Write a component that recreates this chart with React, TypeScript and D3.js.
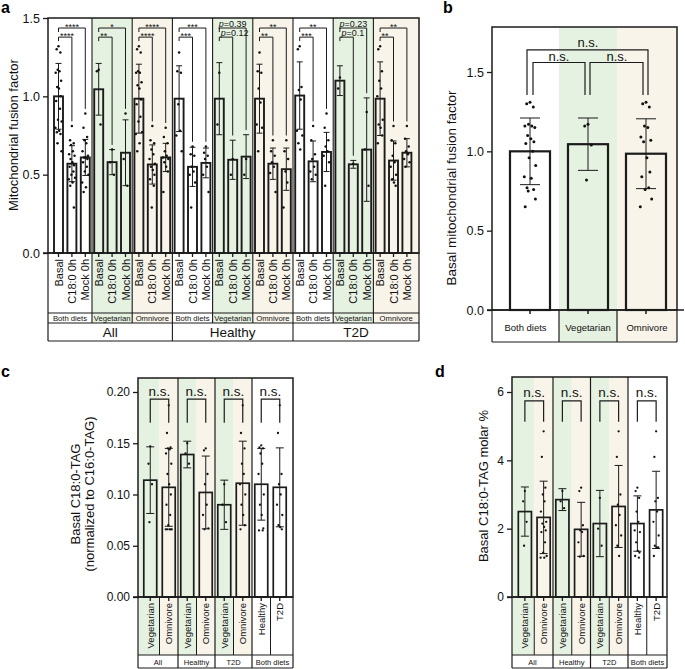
import React, { useEffect, useRef } from "react";
import * as d3 from "d3";

const FONT = '"Liberation Sans", Arial, Helvetica, sans-serif';
const INK = "#1b1b1b";
const GREEN = "#e6f2e1";
const BEIGE = "#f8f4e9";

// ---- panel a: mitochondrial fusion factor, 3 conditions x diet x cohort
const aConditions = ["Basal", "C18:0 0h", "Mock 0h"];
const aDiets = ["Both diets", "Vegetarian", "Omnivore", "Both diets", "Vegetarian", "Omnivore", "Both diets", "Vegetarian", "Omnivore"];
const aCohorts = ["All", "Healthy", "T2D"];
const aMeans = [
  1.0, 0.57, 0.61,
  1.045, 0.58, 0.64,
  0.985, 0.565, 0.61,
  0.985, 0.55, 0.575,
  0.985, 0.595, 0.615,
  0.985, 0.57, 0.535,
  1.005, 0.585, 0.645,
  1.1, 0.566, 0.66,
  0.985, 0.59, 0.64,
];
const aSd = [
  0.21, 0.115, 0.115,
  0.165, 0.08, 0.21,
  0.22, 0.125, 0.09,
  0.21, 0.125, 0.095,
  0.23, 0.125, 0.14,
  0.22, 0.1, 0.135,
  0.215, 0.13, 0.125,
  0.095, 0.025, 0.33,
  0.235, 0.125, 0.09,
];
const aPoints = [
  [1.32, 1.3, 1.28, 1.17, 1.16, 1.15, 1.1, 1.06, 1.05, 1.0, 0.97, 0.92, 0.85, 0.84, 0.8, 0.78, 0.77, 0.76, 0.7, 0.65],
  [0.81, 0.72, 0.7, 0.69, 0.65, 0.63, 0.62, 0.6, 0.58, 0.56, 0.55, 0.52, 0.5, 0.48, 0.47, 0.45, 0.43, 0.29],
  [0.89, 0.8, 0.74, 0.72, 0.7, 0.65, 0.62, 0.61, 0.61, 0.6, 0.58, 0.55, 0.52, 0.5, 0.45, 0.42, 0.39],
  [1.17, 1.16, 0.82],
  [0.66, 0.58, 0.5],
  [0.89, 0.6, 0.43],
  [1.32, 1.3, 1.28, 1.16, 1.15, 1.15, 1.09, 1.07, 1.05, 0.98, 0.95, 0.87, 0.84, 0.77, 0.76, 0.7, 0.65],
  [0.81, 0.72, 0.7, 0.66, 0.63, 0.6, 0.57, 0.55, 0.53, 0.5, 0.47, 0.43, 0.29],
  [0.8, 0.74, 0.7, 0.65, 0.62, 0.61, 0.6, 0.58, 0.55, 0.52, 0.39],
  [1.28, 1.16, 1.15, 0.95, 0.78, 0.75, 0.65],
  [0.68, 0.63, 0.62, 0.55, 0.52, 0.5, 0.45, 0.29],
  [0.68, 0.64, 0.62, 0.6, 0.55, 0.5, 0.39],
  [1.15, 0.82],
  [0.6, 0.5],
  [0.6, 0.5],
  [1.28, 1.16, 1.15, 1.05, 0.96, 0.82, 0.8, 0.65],
  [0.72, 0.65, 0.62, 0.58, 0.55, 0.51, 0.39],
  [0.72, 0.65, 0.6, 0.52, 0.45, 0.29],
  [1.32, 1.3, 1.06, 1.04, 0.98, 0.78, 0.75, 0.7, 0.66],
  [0.81, 0.72, 0.63, 0.6, 0.55, 0.52, 0.5, 0.47],
  [0.89, 0.8, 0.72, 0.68, 0.65, 0.62, 0.58, 0.43],
  [1.12, 1.05],
  [0.57],
  [0.9, 0.66, 0.43],
  [1.32, 1.3, 1.16, 1.1, 1.05, 1.0, 0.85, 0.82, 0.8, 0.75, 0.7],
  [0.81, 0.72, 0.7, 0.62, 0.58, 0.55, 0.5, 0.47, 0.45, 0.43],
  [0.81, 0.73, 0.68, 0.65, 0.63, 0.6, 0.58, 0.55],
];
const aSigOuter = ["****", "*", "****", "***", "p=0.39", "**", "**", "p=0.23", "**"];
const aSigInner = ["****", "**", "****", "***", "p=0.12", "**", "***", "p=0.1", "**"];

// ---- panel b: basal fusion factor by diet
const bDiets = ["Both diets", "Vegetarian", "Omnivore"];
const bMeans = [1.0, 1.045, 0.985];
const bSd = [0.21, 0.165, 0.22];
const bPoints = [
  [1.31, 1.3, 1.28, 1.17, 1.16, 1.16, 1.15, 1.1, 1.08, 1.06, 1.05, 1.0, 0.96, 0.91, 0.84, 0.83, 0.77, 0.76, 0.75, 0.7, 0.65],
  [1.17, 1.16, 1.04, 0.82],
  [1.31, 1.3, 1.28, 1.16, 1.15, 1.09, 1.07, 1.06, 0.96, 0.87, 0.84, 0.77, 0.76, 0.7, 0.65],
];
const bSig = ["n.s.", "n.s.", "n.s."];

// ---- panels c and d: basal C18:0-TAG
const cdDiets = ["Vegetarian", "Omnivore", "Vegetarian", "Omnivore", "Vegetarian", "Omnivore", "Healthy", "T2D"];
const cdGroups = ["All", "Healthy", "T2D", "Both diets"];
const cdSig = ["n.s.", "n.s.", "n.s.", "n.s."];

const cMeans = [0.114, 0.107, 0.139, 0.102, 0.09, 0.111, 0.11, 0.107];
const cSd = [0.0325, 0.038, 0.013, 0.0355, 0.024, 0.041, 0.035, 0.0385];
const cPoints = [
  [0.147, 0.13, 0.11, 0.073],
  [0.187, 0.16, 0.146, 0.145, 0.144, 0.14, 0.13, 0.12, 0.11, 0.1, 0.09, 0.08, 0.07, 0.066, 0.066, 0.066, 0.066, 0.066],
  [0.15, 0.14, 0.13],
  [0.145, 0.143, 0.12, 0.11, 0.09, 0.08, 0.067, 0.066],
  [0.11, 0.09, 0.073],
  [0.187, 0.16, 0.145, 0.13, 0.12, 0.11, 0.1, 0.09, 0.08, 0.07, 0.066],
  [0.148, 0.146, 0.145, 0.14, 0.13, 0.12, 0.1, 0.09, 0.08, 0.067, 0.065, 0.065],
  [0.187, 0.16, 0.12, 0.11, 0.1, 0.09, 0.08, 0.07, 0.068, 0.066],
];

const dMeans = [2.5, 2.33, 2.85, 1.98, 2.15, 2.65, 2.15, 2.55];
const dSd = [0.72, 1.06, 0.32, 0.79, 0.97, 1.2, 0.81, 1.13];
const dPoints = [
  [3.1, 2.8, 2.2, 1.5],
  [4.85, 4.1, 3.2, 3.0, 2.8, 2.5, 2.2, 2.15, 2.05, 1.95, 1.9, 1.6, 1.3, 1.2, 1.15, 1.15],
  [3.1, 2.8, 2.6],
  [3.2, 3.1, 2.1, 1.95, 1.9, 1.6, 1.2, 1.18],
  [2.9, 2.0, 1.5],
  [4.85, 4.1, 3.0, 2.7, 2.4, 2.1, 1.8, 1.5, 1.2],
  [3.2, 3.1, 2.9, 2.5, 2.2, 1.95, 1.9, 1.6, 1.35, 1.3, 1.2, 1.15],
  [4.85, 4.1, 2.9, 2.8, 2.5, 2.2, 1.8, 1.5, 1.45, 1.45, 1.2],
];

// horizontal spread pattern for the dots (display only)
const JITTER = [0, -0.55, 0.55, -0.25, 0.3, -0.85, 0.8, -0.4, 0.15, 0.65, -0.7, 0.45, -0.15, 0.95, -0.95, 0.2, -0.5, 0.6, -0.3, 0.9, -0.8];

type Sel = d3.Selection<SVGGElement, unknown, null, undefined>;
type Band = d3.ScaleBand<number>;
type Lin = d3.ScaleLinear<number, number>;

const dietFill = (d: string) => (d === "Vegetarian" ? GREEN : d === "Omnivore" ? BEIGE : "#ffffff");

function drawBars(g: Sel, x: Band, y: Lin, means: number[], sds: number[], pts: number[][], o: { sw: number; cap: number; r: number; spread: number }) {
  const bw = x.bandwidth();
  const cx = (i: number) => (x(i) ?? 0) + bw / 2;
  const idx = d3.range(means.length);

  g.selectAll("rect.bar").data(idx).join("rect").attr("class", "bar")
    .attr("x", (i) => x(i)!)
    .attr("y", (i) => y(means[i]))
    .attr("width", bw)
    .attr("height", (i) => y(0) - y(means[i]))
    .attr("fill", "none").attr("stroke", INK).attr("stroke-width", o.sw);

  g.selectAll("path.err").data(idx).join("path").attr("class", "err")
    .attr("d", (i) => {
      const hi = y(means[i] + sds[i]);
      const lo = y(means[i] - sds[i]);
      const c = cx(i);
      return `M${c},${hi}V${lo}M${c - o.cap / 2},${hi}h${o.cap}M${c - o.cap / 2},${lo}h${o.cap}`;
    })
    .attr("fill", "none").attr("stroke", INK).attr("stroke-width", 1);

  const dots = idx.flatMap((i) => pts[i].map((v, j) => ({ i, v, j })));
  g.selectAll("circle.pt").data(dots).join("circle").attr("class", "pt")
    .attr("cx", (d) => cx(d.i) + JITTER[d.j % JITTER.length] * o.spread)
    .attr("cy", (d) => y(d.v))
    .attr("r", o.r)
    .attr("fill", "#111");
}

function line(g: Sel, x1: number, y1: number, x2: number, y2: number, w = 1.2) {
  g.append("line").attr("x1", x1).attr("y1", y1).attr("x2", x2).attr("y2", y2).attr("stroke", INK).attr("stroke-width", w);
}

function bracket(g: Sel, x0: number, x1: number, yLine: number, yLeft: number, yRight: number, w = 1) {
  g.append("path").attr("d", `M${x0},${yLeft}V${yLine}H${x1}V${yRight}`)
    .attr("fill", "none").attr("stroke", INK).attr("stroke-width", w);
}

function sigText(g: Sel, x: number, y: number, label: string, size: number, anchor: string) {
  const t = g.append("text").attr("x", x).attr("y", y).attr("font-size", size).attr("text-anchor", anchor).attr("fill", "#111");
  if (label.startsWith("p=")) {
    t.append("tspan").attr("font-style", "italic").text("p");
    t.append("tspan").text(label.slice(1));
  } else t.text(label);
}

function yAxis(g: Sel, y: Lin, x: number, ticks: number[], fmt: (v: number) => string, size: number) {
  const ax = g.append("g").attr("transform", `translate(${x},0)`)
    .call(d3.axisLeft(y).tickValues(ticks).tickFormat((v) => fmt(v as number)).tickSize(5).tickSizeOuter(0).tickPadding(3));
  ax.select(".domain").remove();
  ax.attr("font-family", FONT);
  ax.selectAll("line").attr("stroke", INK).attr("stroke-width", 1.3);
  ax.selectAll("text").attr("font-size", size).attr("fill", "#111");
}

function yTitle(g: Sel, x: number, y: number, text: string, size: number) {
  g.append("text").attr("transform", `translate(${x},${y}) rotate(-90)`)
    .attr("text-anchor", "middle").attr("dominant-baseline", "central")
    .attr("font-size", size).attr("fill", "#111").text(text);
}

function letter(g: Sel, x: number, y: number, t: string) {
  g.append("text").attr("x", x).attr("y", y).attr("font-size", 16).attr("font-weight", "bold").attr("fill", "#000").text(t);
}

function rotLabel(g: Sel, x: number, y: number, t: string, size: number) {
  g.append("text").attr("transform", `translate(${x},${y}) rotate(-90)`)
    .attr("text-anchor", "end").attr("dominant-baseline", "central")
    .attr("font-size", size).attr("fill", "#111").text(t);
}

function drawA(root: Sel) {
  const g = root.append("g");
  const L = 48, R = 419, yLab = 313, ySub = 323, yBot = 341;
  const y = d3.scaleLinear().domain([0, 1.5]).range([253, 18]);
  const y0 = y(0), T = y(1.5);
  const n = aMeans.length;
  const x = d3.scaleBand<number>().domain(d3.range(n)).range([51.8, 413.6]).paddingInner(0.33).paddingOuter(0.165);
  const cx = (i: number) => x(i)! + x.bandwidth() / 2;
  const cs = (i: number) => cx(i) - x.step() / 2;
  const nG = aDiets.length;
  const gx0 = (k: number) => (k === 0 ? L : cs(3 * k));
  const gx1 = (k: number) => (k === nG - 1 ? R : cs(3 * k + 3));

  g.selectAll("rect.bg").data(aDiets).join("rect").attr("class", "bg")
    .attr("x", (_, k) => gx0(k)).attr("y", T)
    .attr("width", (_, k) => gx1(k) - gx0(k)).attr("height", ySub - T)
    .attr("fill", (d) => dietFill(d));

  drawBars(g, x, y, aMeans, aSd, aPoints, { sw: 1.9, cap: 6, r: 1.25, spread: 3.3 });

  g.append("rect").attr("x", L).attr("y", T).attr("width", R - L).attr("height", y0 - T)
    .attr("fill", "none").attr("stroke", INK).attr("stroke-width", 1.5);
  for (let k = 0; k < nG - 1; k++) line(g, gx1(k), T, gx1(k), k % 3 === 2 ? yBot : ySub, 1.1);
  line(g, L, y0, L, yBot);
  line(g, R, y0, R, yBot);
  line(g, L, yLab, R, yLab, 1);
  line(g, L, ySub, R, ySub, 1);
  line(g, L, yBot, R, yBot, 1.2);
  line(g, L - 5, y0, R, y0, 1.5);

  d3.range(n).forEach((i) => {
    line(g, cx(i), y0, cx(i), y0 + 4, 1.3);
    rotLabel(g, cx(i), y0 + 6, aConditions[i % 3], 11);
  });
  aDiets.forEach((d, k) => {
    g.append("text").attr("x", (gx0(k) + gx1(k)) / 2).attr("y", (yLab + ySub) / 2)
      .attr("text-anchor", "middle").attr("dominant-baseline", "central")
      .attr("font-size", 7.7).attr("fill", "#111").text(d);
  });
  aCohorts.forEach((c, j) => {
    g.append("text").attr("x", (gx0(3 * j) + gx1(3 * j + 2)) / 2).attr("y", (ySub + yBot) / 2 + 0.5)
      .attr("text-anchor", "middle").attr("dominant-baseline", "central")
      .attr("font-size", 13.5).attr("fill", "#111").text(c);
  });

  const yo = y(1.436), yi = y(1.378);
  const legEnd = (i: number) => y(Math.max(d3.max(aPoints[i])!, aMeans[i] + aSd[i]) + 0.03);
  for (let k = 0; k < nG; k++) {
    const b = 3 * k;
    bracket(g, cx(b), cx(b + 2), yo, yo + 4, legEnd(b + 2));
    bracket(g, cx(b), cx(b + 1), yi, yi + 4, legEnd(b + 1));
    const po = aSigOuter[k].startsWith("p");
    const pi = aSigInner[k].startsWith("p");
    sigText(g, (cx(b) + cx(b + 2)) / 2, po ? yo - 1.5 : yo + 1.5, aSigOuter[k], 9, "middle");
    sigText(g, cx(b) + 1.5, pi ? yi - 1.5 : yi + 1.5, aSigInner[k], 9, "start");
  }

  yAxis(g, y, L, [0, 0.5, 1, 1.5], d3.format(".1f"), 12.5);
  yTitle(g, 13, 135, "Mitochondrial fusion factor", 13);
  letter(g, 1, 13, "a");
}

function drawB(root: Sel) {
  const g = root.append("g");
  const L = 492, R = 677, T = 27, yBot = 342;
  const y = d3.scaleLinear().domain([0, 1.5]).range([310, 72]);
  const y0 = y(0);
  const x = d3.scaleBand<number>().domain(d3.range(bMeans.length)).range([501, 675]).paddingInner(0.31).paddingOuter(0.155);
  const cx = (i: number) => x(i)! + x.bandwidth() / 2;
  const cs = (i: number) => cx(i) - x.step() / 2;
  const e0 = (i: number) => (i === 0 ? L : cs(i));
  const e1 = (i: number) => (i === bDiets.length - 1 ? R : cs(i + 1));

  g.selectAll("rect.bg").data(bDiets).join("rect").attr("class", "bg")
    .attr("x", (_, i) => e0(i)).attr("y", T)
    .attr("width", (_, i) => e1(i) - e0(i)).attr("height", yBot - T)
    .attr("fill", (d) => dietFill(d));

  drawBars(g, x, y, bMeans, bSd, bPoints, { sw: 2.2, cap: 20, r: 1.5, spread: 6 });

  g.append("rect").attr("x", L).attr("y", T).attr("width", R - L).attr("height", y0 - T)
    .attr("fill", "none").attr("stroke", INK).attr("stroke-width", 1.5);
  line(g, L - 5, y0, 684, y0, 1.5);
  [L, cs(1), cs(2), R].forEach((v) => line(g, v, y0, v, yBot, 1.2));
  line(g, L, yBot, R, yBot, 1.2);
  bDiets.forEach((d, i) => {
    line(g, cx(i), y0, cx(i), y0 + 4, 1.5);
    g.append("text").attr("x", (e0(i) + e1(i)) / 2).attr("y", (y0 + yBot) / 2 + 1.5)
      .attr("text-anchor", "middle").attr("dominant-baseline", "central")
      .attr("font-size", 9.5).attr("fill", "#111").text(d);
  });

  const yo = y(1.64), yi = y(1.56), yl = y(1.355);
  bracket(g, cx(0) - 3, cx(2) + 2, yo, yl, yl, 1.2);
  bracket(g, cx(0) + 3, cx(1) - 3, yi, yl, yl, 1.2);
  bracket(g, cx(1) + 2, cx(2) - 3, yi, yl, yl, 1.2);
  sigText(g, cx(1), yo - 2.5, bSig[2], 13, "middle");
  sigText(g, (cx(0) + cx(1)) / 2, yi - 1.5, bSig[0], 13, "middle");
  sigText(g, (cx(1) + cx(2)) / 2, yi - 1.5, bSig[1], 13, "middle");

  yAxis(g, y, L, [0, 0.5, 1, 1.5], d3.format(".1f"), 12.5);
  yTitle(g, 451, 188, "Basal mitochondrial fusion factor", 13.5);
  letter(g, 443, 13, "b");
}

function drawSmall(root: Sel, o: {
  L: number; R: number; T: number; y: Lin; range: [number, number];
  means: number[]; sd: number[]; pts: number[][]; ticks: number[]; fmt: (v: number) => string;
  titles: string[]; titleX: number[]; titleY: number; sigTop: number; sigLeg: number;
  tag: string; tagX: number;
}) {
  const g = root.append("g");
  const { L, R, T, y } = o;
  const y0 = y(0), yCell = 655, yBot = 668;
  const n = cdDiets.length;
  const x = d3.scaleBand<number>().domain(d3.range(n)).range(o.range).paddingInner(0.3).paddingOuter(0.15);
  const cx = (i: number) => x(i)! + x.bandwidth() / 2;
  const cs = (i: number) => cx(i) - x.step() / 2;
  const e0 = (i: number) => (i === 0 ? L : cs(i));
  const e1 = (i: number) => (i === n - 1 ? R : cs(i + 1));

  g.selectAll("rect.bg").data(cdDiets).join("rect").attr("class", "bg")
    .attr("x", (_, i) => e0(i)).attr("y", T)
    .attr("width", (_, i) => e1(i) - e0(i)).attr("height", yCell - T)
    .attr("fill", (d) => dietFill(d));

  drawBars(g, x, y, o.means, o.sd, o.pts, { sw: 1.7, cap: 8, r: 1.15, spread: 3.2 });

  g.append("rect").attr("x", L).attr("y", T).attr("width", R - L).attr("height", y0 - T)
    .attr("fill", "none").attr("stroke", INK).attr("stroke-width", 1.5);
  [2, 4, 6].forEach((i) => line(g, cs(i), T, cs(i), yBot, 1.2));
  [1, 3, 5, 7].forEach((i) => line(g, cs(i), y0, cs(i), yCell, 1));
  line(g, L, y0, L, yBot);
  line(g, R, y0, R, yBot);
  line(g, L, yCell, R, yCell, 1);
  line(g, L, yBot, R, yBot, 1.2);
  line(g, L - 5, y0, R, y0, 1.5);

  cdDiets.forEach((d, i) => {
    line(g, cx(i), y0, cx(i), y0 + 4, 1.3);
    rotLabel(g, cx(i), y0 + 6, d, 9.5);
  });
  cdGroups.forEach((t, k) => {
    g.append("text").attr("x", (e0(2 * k) + e1(2 * k + 1)) / 2).attr("y", (yCell + yBot) / 2 + 0.5)
      .attr("text-anchor", "middle").attr("dominant-baseline", "central")
      .attr("font-size", 7.5).attr("fill", "#111").text(t);
    const yt = y(o.sigTop), yl = y(o.sigLeg);
    bracket(g, cx(2 * k), cx(2 * k + 1), yt, yl, yl, 1.2);
    sigText(g, (cx(2 * k) + cx(2 * k + 1)) / 2, yt - 3.5, cdSig[k], 13.5, "middle");
  });

  yAxis(g, y, L, o.ticks, o.fmt, 12);
  o.titles.forEach((t, i) => yTitle(g, o.titleX[i], o.titleY, t, 13));
  letter(g, o.tagX, 377, o.tag);
}

export default function App() {
  const ref = useRef<SVGSVGElement>(null);

  useEffect(() => {
    if (!ref.current) return;
    const svg = d3.select(ref.current);
    svg.selectAll("*").remove();
    const root = svg.append("g") as unknown as Sel;

    drawA(root);
    drawB(root);
    drawSmall(root, {
      L: 138, R: 293, T: 378, y: d3.scaleLinear().domain([0, 0.2]).range([597, 392]), range: [141, 289],
      means: cMeans, sd: cSd, pts: cPoints, ticks: [0, 0.05, 0.1, 0.15, 0.2], fmt: d3.format(".2f"),
      titles: ["Basal C18:0-TAG", "(normalized to C16:0-TAG)"], titleX: [75, 89], titleY: 494,
      sigTop: 0.193, sigLeg: 0.17, tag: "c", tagX: 1,
    });
    drawSmall(root, {
      L: 512, R: 667, T: 377, y: d3.scaleLinear().domain([0, 6]).range([597, 392]), range: [515.5, 665.5],
      means: dMeans, sd: dSd, pts: dPoints, ticks: [0, 2, 4, 6], fmt: d3.format("d"),
      titles: ["Basal C18:0-TAG molar %"], titleX: [483], titleY: 486,
      sigTop: 5.74, sigLeg: 5.13, tag: "d", tagX: 435,
    });
  }, []);

  return (
    <svg
      ref={ref}
      width={685}
      height={669}
      fontFamily={FONT}
      style={{ position: "absolute", left: 0, top: 0, background: "#fff" }}
    />
  );
}
